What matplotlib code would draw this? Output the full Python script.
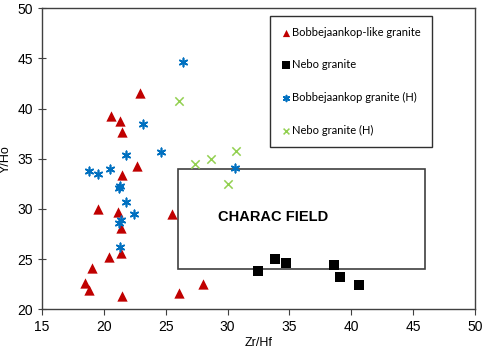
import matplotlib
matplotlib.use("Agg")
import matplotlib.pyplot as plt
from matplotlib.patches import Rectangle

# Bobbejaankop-like granite
bl_zrhf = [22.9, 20.6, 21.3, 21.5, 22.7, 21.5, 19.5, 21.1, 21.4, 25.5,
           21.4, 20.4, 19.0, 18.5, 18.8, 21.5, 26.1, 28.0]
bl_yho = [41.5, 39.3, 38.8, 37.7, 34.3, 33.4, 30.0, 29.7, 28.1, 29.5,
          25.6, 25.2, 24.1, 22.6, 21.9, 21.3, 21.6, 22.5]

# Nebo granite
nb_zrhf = [32.5, 33.8, 34.7, 38.6, 39.1, 40.6]
nb_yho = [23.8, 25.0, 24.6, 24.4, 23.2, 22.4]

# Bobbejaankop granite (H)
bh_zrhf = [26.4, 23.2, 21.8, 24.6, 18.8, 19.5, 20.5, 21.2, 21.3, 21.8,
           22.4, 21.2, 21.4, 21.3, 30.6]
bh_yho = [44.6, 38.5, 35.4, 35.7, 33.8, 33.5, 34.0, 32.1, 32.3, 30.7,
          29.5, 28.6, 28.9, 26.2, 34.1]

# Nebo granite (H)
nh_zrhf = [26.1, 27.4, 28.7, 30.7, 30.0]
nh_yho = [40.7, 34.5, 35.0, 35.8, 32.5]

# characteristic field box (Zr/Hf 26-46, Y/Ho 24-34)
field_x = [26, 46]
field_y = [24, 34]

fig = plt.figure(figsize=(4.84, 3.5), dpi=100)
ax = fig.add_axes([0.087, 0.116, 0.894, 0.861])

ax.add_patch(Rectangle((field_x[0], field_y[0]), field_x[1] - field_x[0],
                       field_y[1] - field_y[0], fill=False,
                       edgecolor="#404040", lw=1.2, zorder=1))
ax.text(sum(field_x) / 2 - 2.3, 29.2, "CHARAC FIELD", family="Liberation Sans",
        fontsize=10.5, fontweight="bold", ha="center", va="center")

ax.scatter(bl_zrhf, bl_yho, marker="^", s=55, color="#C00000", lw=0,
           label="Bobbejaankop-like granite", zorder=3)
ax.scatter(nb_zrhf, nb_yho, marker="s", s=55, color="black", lw=0,
           label="Nebo granite", zorder=3)
ax.scatter(bh_zrhf, bh_yho, marker=(6, 2, 0), s=36, color="#0070C0", lw=1.2,
           label="Bobbejaankop granite (H)", zorder=3)
ax.scatter(nh_zrhf, nh_yho, marker="x", s=36, color="#92D050", lw=1.1,
           label="Nebo granite (H)", zorder=3)

ax.set_xlim(15, 50)
ax.set_ylim(20, 50)
ax.set_xticks(range(15, 51, 5))
ax.set_yticks(range(20, 51, 5))
for lab in ax.get_xticklabels() + ax.get_yticklabels():
    lab.set_family("Liberation Sans")
    lab.set_fontsize(10)
ax.tick_params(axis="x", direction="out", length=4, color="#404040")
ax.tick_params(axis="y", direction="inout", length=6, color="#404040")
for sp in ax.spines.values():
    sp.set_color("#404040")
    sp.set_linewidth(1.0)

ax.set_xlabel("Zr/Hf", family="Liberation Sans", fontsize=9, labelpad=2)
ax.set_ylabel("Y/Ho", family="Liberation Sans", fontsize=9, labelpad=4)

leg = ax.legend(loc="upper left", bbox_to_anchor=(0.526, 0.975),
                borderaxespad=0, prop={"family": "Lato", "size": 8},
                labelspacing=1.95, handletextpad=0.0, handlelength=1.0,
                borderpad=1.0, fancybox=False, framealpha=1, scatterpoints=1,
                markerscale=0.7)
leg.get_frame().set_edgecolor("#303030")
leg.get_frame().set_linewidth(1.0)

fig.savefig("out.png", dpi=100)
